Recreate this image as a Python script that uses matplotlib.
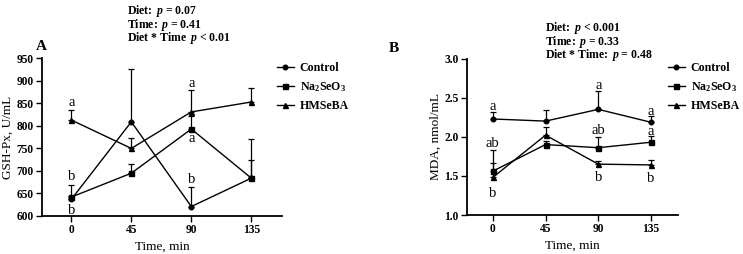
import matplotlib
matplotlib.use("Agg")
import matplotlib.pyplot as plt

plt.rcParams['font.family'] = 'Liberation Serif'
plt.rcParams['font.weight'] = 'bold'
plt.rcParams['mathtext.fontset'] = 'custom'
plt.rcParams['mathtext.rm'] = 'Liberation Serif:bold'
plt.rcParams['mathtext.it'] = 'Liberation Serif:italic:bold'
plt.rcParams['mathtext.bf'] = 'Liberation Serif:bold'
plt.rcParams['mathtext.default'] = 'regular'

# data
time = [0, 45, 90, 135]
groups = ["Control", "Na$_2$SeO$_3$", "HMSeBA"]

# panel A, GSH-Px
gsh_control = [637, 809, 621, 684]
gsh_control_err = [8, 117, 44, 87]
gsh_na = [642, 695, 793, 684]
gsh_na_err = [26, 20, 30, 41]
gsh_hmseba = [813, 750, 831, 853]
gsh_hmseba_err = [23, 24, 49, 30]
gsh_letters = [(0, 853, 'a'), (0, 687, 'b'), (0, 613, 'b'),
               (90, 894, 'a'), (90, 771, 'a'), (90, 680, 'b')]
gsh_stats = ["Diet: $\\,\\mathit{p}$ = 0.07", "Time: $\\,\\mathit{p}$ = 0.41",
             "Diet * Time $\\,\\mathit{p}$ < 0.01"]

# panel B, MDA
mda_control = [2.227, 2.20, 2.35, 2.185]
mda_control_err = [0.09, 0.14, 0.24, 0.08]
mda_na = [1.56, 1.90, 1.86, 1.93]
mda_na_err = [0.27, 0.05, 0.14, 0.08]
mda_hmseba = [1.48, 2.02, 1.65, 1.64]
mda_hmseba_err = [0.18, 0.10, 0.04, 0.06]
mda_letters = [(0, 2.39, 'a'), (0, 1.91, 'ab'), (0, 1.28, 'b'),
               (90, 2.66, 'a'), (90, 2.08, 'ab'), (90, 1.48, 'b'),
               (135, 2.32, 'a'), (135, 2.07, 'a'), (135, 1.47, 'b')]
mda_stats = ["Diet: $\\,\\mathit{p}$ < 0.001", "Time: $\\,\\mathit{p}$ = 0.33",
             "Diet * Time: $\\,\\mathit{p}$ = 0.48"]

W, H = 743, 254
fig = plt.figure(figsize=(W / 100, H / 100), dpi=100)

def px(x, y):
    return x / W, 1 - y / H

markers = ['o', 's', '^']
msizes = [3.3, 3.6, 3.6]


def panel(box, series, errs, letters, ylim, yticks, yfmt, ylabel, tag, tagpos,
          stats, statpos, legpos):
    l, t, r, b = box
    ax = fig.add_axes([l / W, 1 - b / H, (r - l) / W, (b - t) / H])
    for vals, err, m, ms, name in zip(series, errs, markers, msizes, groups):
        ax.errorbar(time, vals, yerr=[[0] * len(err), err], fmt='none',
                    ecolor='black', elinewidth=0.9, capsize=2.5, capthick=0.9)
        ax.plot(time, vals, color='black', lw=1, marker=m, ms=ms, label=name)
    for tx, ty, s in letters:
        ax.text(tx, ty, s, ha='center', va='center', fontsize=10.5,
                fontweight='normal')
    ax.set_xlim(-22, 158)
    ax.set_ylim(*ylim)
    ax.set_xticks(time)
    ax.set_yticks(yticks)
    ax.set_yticklabels([yfmt.format(v) for v in yticks])
    ax.tick_params(labelsize=8.3, width=1, length=4, pad=2)
    for s in ['top', 'right']:
        ax.spines[s].set_visible(False)
    for s in ['left', 'bottom']:
        ax.spines[s].set_linewidth(1.3)
    ax.set_xlabel("Time, min", fontsize=9.5, labelpad=3)
    ax.set_ylabel(ylabel, fontsize=9.5, labelpad=2)
    fig.text(*px(*tagpos), tag, fontsize=11, ha='left', va='center')
    fig.text(*px(*statpos), "\n".join(stats), fontsize=8.5, ha='left',
             va='top', linespacing=0.78)
    ax.legend(loc='upper left', bbox_to_anchor=px(*legpos),
              bbox_transform=fig.transFigure, frameon=False, fontsize=8.6,
              handlelength=1.4, handletextpad=0.5, labelspacing=0.5,
              borderaxespad=0, borderpad=0)
    return ax


panel((42, 58.3, 282, 216),
      [gsh_control, gsh_na, gsh_hmseba],
      [gsh_control_err, gsh_na_err, gsh_hmseba_err],
      gsh_letters, (600, 950), [600, 650, 700, 750, 800, 850, 900, 950],
      "{:.0f}", "GSH-Px, U/mL", "A", (36, 46),
      gsh_stats, (127, 3), (277, 62))

panel((467, 58.5, 678, 215),
      [mda_control, mda_na, mda_hmseba],
      [mda_control_err, mda_na_err, mda_hmseba_err],
      mda_letters, (1.0, 3.0), [1.0, 1.5, 2.0, 2.5, 3.0],
      "{:.1f}", "MDA, nmol/mL", "B", (389, 48),
      mda_stats, (545, 20), (668, 62))

fig.savefig("out.png", dpi=100)
